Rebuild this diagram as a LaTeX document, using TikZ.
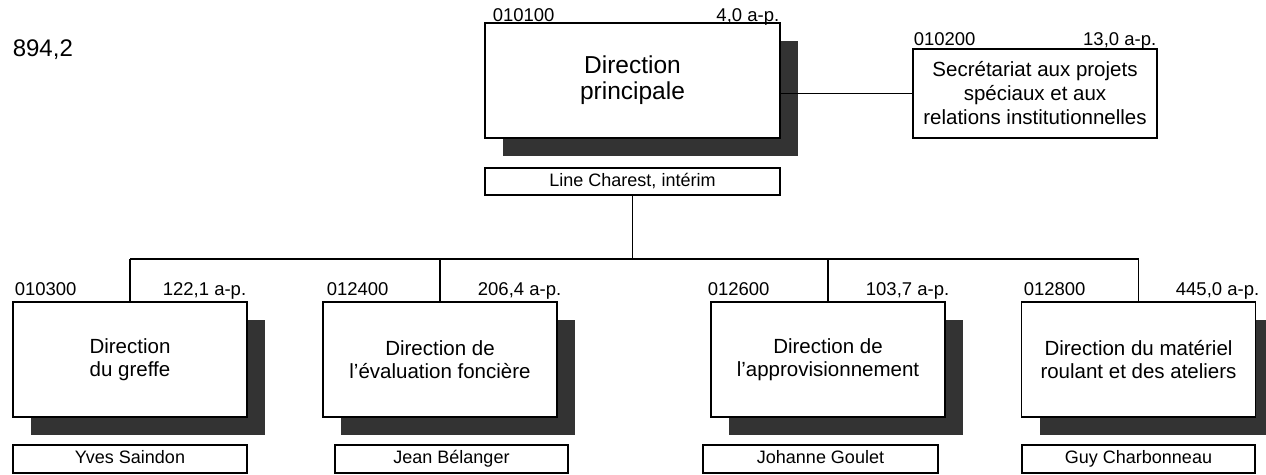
\documentclass[tikz,border=0pt]{standalone}
\usepackage{fontspec}
\setmainfont{Liberation Sans}
\usetikzlibrary{shadows}
\definecolor{shadowc}{RGB}{51,51,51}
\begin{document}
\begin{tikzpicture}[x=1pt,y=-1pt,
  line width=1.6pt,
  shadowed/.style={drop shadow={shadow xshift=18pt, shadow yshift=-18pt, fill=shadowc, opacity=1}},
  dirbox/.style={draw, fill=white, inner sep=0pt, align=center, minimum width=234pt, minimum height=115pt,
    font=\fontsize{20.5}{23.5}\selectfont, shadowed},
  secbox/.style={draw, fill=white, inner sep=0pt, align=center, font=\fontsize{20.5}{24}\selectfont},
  namebox/.style={draw, fill=white, inner sep=0pt, minimum height=28pt, text height=13pt, text depth=4pt,
    font=\fontsize{18}{21}\selectfont},
  code/.style={inner sep=0pt, font=\fontsize{18.5}{21}\selectfont},
  conn/.style={line width=1.6pt}]
\useasboundingbox (0,0) rectangle (1266,474);

% total
\node[inner sep=0pt, anchor=base west, font=\fontsize{24}{28}\selectfont] (total) at (12,56) {894,2};

% top
\node[dirbox, minimum width=295pt, minimum height=115pt, font=\fontsize{24.5}{26}\selectfont] (main) at (632.5,80.5) {Direction\\principale};
\node[namebox, minimum width=295pt, minimum height=27pt] (mainn) at (632.5,181.5) {Line Charest, intérim};
\node[code, anchor=base west] (mainc) at (492,21) {010100};
\node[code, anchor=base east] (mainp) at (780,21) {4,0 a-p.};

\node[secbox, minimum width=244pt, minimum height=89pt] (sec) at (1035,93.5) {Secrétariat aux projets\\spéciaux et aux\\relations institutionnelles};
\node[code, anchor=base west] (secc) at (913,45) {010200};
\node[code, anchor=base east] (secp) at (1157,45) {13,0 a-p.};

% bottom row
\node[dirbox] (a) at (130,359.5) {Direction\\du greffe};
\node[dirbox] (b) at (440,359.5) {Direction de\\l’évaluation foncière};
\node[dirbox] (c) at (828,359.5) {Direction de\\l’approvisionnement};
\node[dirbox] (d) at (1138.5,359.5) {Direction du matériel\\roulant et des ateliers};

\node[namebox, minimum width=234pt] (an) at (130,459) {Yves Saindon};
\node[namebox, minimum width=233pt] (bn) at (451.5,459) {Jean Bélanger};
\node[namebox, minimum width=235pt] (cn) at (820.5,459) {Johanne Goulet};
\node[namebox, minimum width=233pt] (dn) at (1138.5,459) {Guy Charbonneau};

\node[code, anchor=base west] (ac) at (14,295) {010300};
\node[code, anchor=base east] (ap) at (247,295) {122,1 a-p.};
\node[code, anchor=base west] (bc) at (326,295) {012400};
\node[code, anchor=base east] (bp) at (562,295) {206,4 a-p.};
\node[code, anchor=base west] (cc) at (707,295) {012600};
\node[code, anchor=base east] (cp) at (950,295) {103,7 a-p.};
\node[code, anchor=base west] (dc) at (1023,295) {012800};
\node[code, anchor=base east] (dp) at (1260,295) {445,0 a-p.};

% connectors
\coordinate (junction) at (632.5,259);
\draw[conn] (sec.west) -- (sec.west -| main.east);
\draw[conn] (mainn.south) -- (junction);
\draw[conn] (a.north |- junction) -- (d.north |- junction);
\draw[conn] (a.north) -- (a.north |- junction);
\draw[conn] (b.north) -- (b.north |- junction);
\draw[conn] (c.north) -- (c.north |- junction);
\draw[conn] (d.north) -- (d.north |- junction);
\end{tikzpicture}
\end{document}
